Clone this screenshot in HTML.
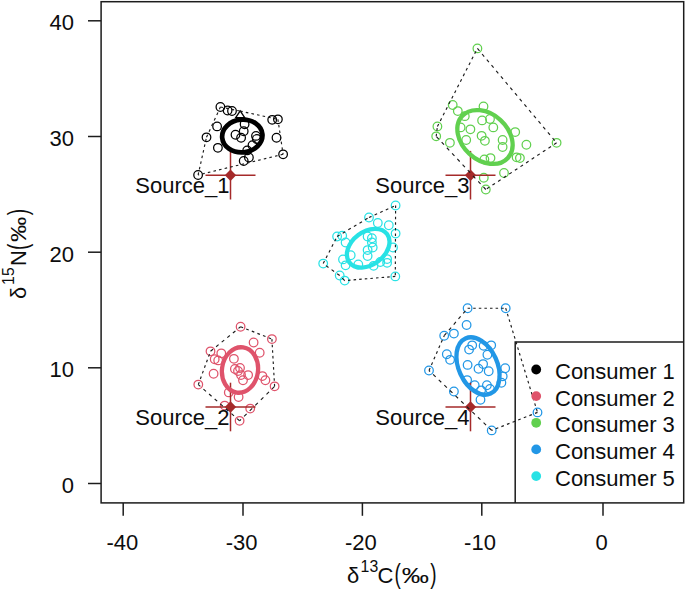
<!DOCTYPE html><html><head><meta charset="utf-8"><title>Isotope biplot</title><style>html,body{margin:0;padding:0;background:#fff}body{width:685px;height:590px;overflow:hidden}</style></head><body><svg width="685" height="590" viewBox="0 0 685 590" style="display:block">
<rect width="685" height="590" fill="#fff"/>
<g font-family="&quot;Liberation Sans&quot;, sans-serif" font-size="22" fill="#0d0d0d">
<rect x="101.1" y="1.7" width="582.6" height="501.2" fill="none" stroke="#1c1c1c" stroke-width="1.5"/>
<line x1="123.2" y1="502.9" x2="123.2" y2="515.8" stroke="#1c1c1c" stroke-width="1.5"/>
<text x="122.4" y="550.3" text-anchor="middle">-40</text>
<line x1="243.0" y1="502.9" x2="243.0" y2="515.8" stroke="#1c1c1c" stroke-width="1.5"/>
<text x="241.6" y="550.3" text-anchor="middle">-30</text>
<line x1="362.4" y1="502.9" x2="362.4" y2="515.8" stroke="#1c1c1c" stroke-width="1.5"/>
<text x="360.8" y="550.3" text-anchor="middle">-20</text>
<line x1="481.8" y1="502.9" x2="481.8" y2="515.8" stroke="#1c1c1c" stroke-width="1.5"/>
<text x="480.0" y="550.3" text-anchor="middle">-10</text>
<line x1="603.0" y1="502.9" x2="603.0" y2="515.8" stroke="#1c1c1c" stroke-width="1.5"/>
<text x="601.7" y="550.3" text-anchor="middle">0</text>
<line x1="88" y1="483.5" x2="101.1" y2="483.5" stroke="#1c1c1c" stroke-width="1.5"/>
<text x="74" y="493.0" text-anchor="end">0</text>
<line x1="88" y1="367.8" x2="101.1" y2="367.8" stroke="#1c1c1c" stroke-width="1.5"/>
<text x="74" y="377.3" text-anchor="end">10</text>
<line x1="88" y1="252.2" x2="101.1" y2="252.2" stroke="#1c1c1c" stroke-width="1.5"/>
<text x="74" y="261.7" text-anchor="end">20</text>
<line x1="88" y1="136.5" x2="101.1" y2="136.5" stroke="#1c1c1c" stroke-width="1.5"/>
<text x="74" y="146.0" text-anchor="end">30</text>
<line x1="88" y1="20.8" x2="101.1" y2="20.8" stroke="#1c1c1c" stroke-width="1.5"/>
<text x="74" y="30.3" text-anchor="end">40</text>
<g transform="translate(347,582.5)"><text x="0" y="0">δ</text><text x="13.6" y="-10.5" font-size="15.8">13</text><text x="30.6" y="0">C</text><text transform="translate(47.6,0.4) scale(0.86,1.25)">(</text><text x="54.7" y="0" textLength="27.2" lengthAdjust="spacingAndGlyphs">‰</text><text transform="translate(83.3,0.4) scale(0.86,1.25)">)</text></g>
<g transform="translate(26.3,299.5) rotate(-90)"><text x="0.4" y="0">δ</text><text x="14.6" y="-12.6" font-size="15.8">15</text><text x="33.4" y="0">N</text><text transform="translate(49.6,0.4) scale(0.86,1.25)">(</text><text x="57.6" y="0" textLength="25.2" lengthAdjust="spacingAndGlyphs">‰</text><text transform="translate(84.3,0.4) scale(0.86,1.25)">)</text></g>
<g fill="none" stroke="#000000" stroke-width="1.25">
<circle cx="220.4" cy="107.0" r="4.3"/>
<circle cx="227.6" cy="110.5" r="4.3"/>
<circle cx="232.0" cy="111.0" r="4.3"/>
<circle cx="272.2" cy="119.8" r="4.3"/>
<circle cx="277.9" cy="119.3" r="4.3"/>
<circle cx="217.1" cy="126.4" r="4.3"/>
<circle cx="206.5" cy="137.3" r="4.3"/>
<circle cx="276.5" cy="137.7" r="4.3"/>
<circle cx="217.9" cy="147.8" r="4.3"/>
<circle cx="283.1" cy="154.3" r="4.3"/>
<circle cx="243.7" cy="161.0" r="4.3"/>
<circle cx="248.9" cy="157.5" r="4.3"/>
<circle cx="198.1" cy="175.0" r="4.3"/>
<circle cx="244.6" cy="124.2" r="4.3"/>
<circle cx="243.7" cy="131.2" r="4.3"/>
<circle cx="235.5" cy="134.7" r="4.3"/>
<circle cx="241.1" cy="137.7" r="4.3"/>
<circle cx="256.0" cy="135.9" r="4.3"/>
<circle cx="252.5" cy="145.2" r="4.3"/>
<circle cx="247.2" cy="150.4" r="4.3"/>
<circle cx="256.8" cy="139.0" r="4.3"/>
</g>
<g fill="none" stroke="#DF536B" stroke-width="1.25">
<circle cx="240.6" cy="326.7" r="4.3"/>
<circle cx="271.9" cy="339.1" r="4.3"/>
<circle cx="253.6" cy="342.5" r="4.3"/>
<circle cx="210.5" cy="351.3" r="4.3"/>
<circle cx="221.3" cy="353.3" r="4.3"/>
<circle cx="259.7" cy="352.7" r="4.3"/>
<circle cx="218.2" cy="360.4" r="4.3"/>
<circle cx="214.7" cy="359.2" r="4.3"/>
<circle cx="213.6" cy="373.7" r="4.3"/>
<circle cx="198.3" cy="384.6" r="4.3"/>
<circle cx="262.4" cy="376.1" r="4.3"/>
<circle cx="265.4" cy="380.2" r="4.3"/>
<circle cx="274.6" cy="386.3" r="4.3"/>
<circle cx="228.8" cy="392.4" r="4.3"/>
<circle cx="238.6" cy="397.0" r="4.3"/>
<circle cx="224.7" cy="405.6" r="4.3"/>
<circle cx="250.2" cy="408.6" r="4.3"/>
<circle cx="239.6" cy="420.8" r="4.3"/>
<circle cx="233.9" cy="358.8" r="4.3"/>
<circle cx="234.9" cy="369.0" r="4.3"/>
<circle cx="240.0" cy="368.0" r="4.3"/>
<circle cx="241.0" cy="375.1" r="4.3"/>
<circle cx="248.1" cy="375.1" r="4.3"/>
<circle cx="243.0" cy="380.2" r="4.3"/>
<circle cx="238.0" cy="371.0" r="4.3"/>
</g>
<g fill="none" stroke="#61D04F" stroke-width="1.25">
<circle cx="477.4" cy="48.4" r="4.3"/>
<circle cx="452.7" cy="105.0" r="4.3"/>
<circle cx="457.8" cy="111.1" r="4.3"/>
<circle cx="483.5" cy="106.4" r="4.3"/>
<circle cx="437.4" cy="126.5" r="4.3"/>
<circle cx="436.2" cy="136.3" r="4.3"/>
<circle cx="449.9" cy="142.8" r="4.3"/>
<circle cx="556.6" cy="142.8" r="4.3"/>
<circle cx="515.2" cy="132.1" r="4.3"/>
<circle cx="526.4" cy="144.7" r="4.3"/>
<circle cx="516.6" cy="157.3" r="4.3"/>
<circle cx="519.9" cy="158.1" r="4.3"/>
<circle cx="504.0" cy="173.0" r="4.3"/>
<circle cx="483.8" cy="177.7" r="4.3"/>
<circle cx="485.8" cy="189.5" r="4.3"/>
<circle cx="464.8" cy="116.2" r="4.3"/>
<circle cx="482.1" cy="120.4" r="4.3"/>
<circle cx="490.0" cy="119.0" r="4.3"/>
<circle cx="493.3" cy="127.4" r="4.3"/>
<circle cx="470.4" cy="129.3" r="4.3"/>
<circle cx="460.6" cy="127.4" r="4.3"/>
<circle cx="466.2" cy="140.0" r="4.3"/>
<circle cx="481.6" cy="135.8" r="4.3"/>
<circle cx="484.9" cy="140.8" r="4.3"/>
<circle cx="502.6" cy="140.0" r="4.3"/>
<circle cx="502.6" cy="147.0" r="4.3"/>
<circle cx="484.4" cy="159.5" r="4.3"/>
<circle cx="490.5" cy="158.1" r="4.3"/>
</g>
<g fill="none" stroke="#2297E6" stroke-width="1.25">
<circle cx="467.6" cy="308.2" r="4.3"/>
<circle cx="505.7" cy="308.2" r="4.3"/>
<circle cx="466.6" cy="325.0" r="4.3"/>
<circle cx="444.2" cy="335.7" r="4.3"/>
<circle cx="453.9" cy="333.6" r="4.3"/>
<circle cx="446.8" cy="354.2" r="4.3"/>
<circle cx="450.1" cy="359.8" r="4.3"/>
<circle cx="429.0" cy="370.5" r="4.3"/>
<circle cx="453.9" cy="391.5" r="4.3"/>
<circle cx="505.2" cy="368.2" r="4.3"/>
<circle cx="502.7" cy="376.3" r="4.3"/>
<circle cx="501.4" cy="382.7" r="4.3"/>
<circle cx="480.5" cy="399.7" r="4.3"/>
<circle cx="491.7" cy="430.4" r="4.3"/>
<circle cx="537.5" cy="412.4" r="4.3"/>
<circle cx="472.2" cy="345.3" r="4.3"/>
<circle cx="469.1" cy="349.6" r="4.3"/>
<circle cx="483.6" cy="345.8" r="4.3"/>
<circle cx="491.2" cy="345.3" r="4.3"/>
<circle cx="487.4" cy="354.7" r="4.3"/>
<circle cx="467.6" cy="364.9" r="4.3"/>
<circle cx="483.1" cy="364.1" r="4.3"/>
<circle cx="478.5" cy="368.7" r="4.3"/>
<circle cx="488.7" cy="371.2" r="4.3"/>
<circle cx="467.1" cy="380.1" r="4.3"/>
<circle cx="474.7" cy="385.2" r="4.3"/>
<circle cx="486.9" cy="385.2" r="4.3"/>
<circle cx="481.1" cy="390.3" r="4.3"/>
<circle cx="490.0" cy="389.0" r="4.3"/>
</g>
<g fill="none" stroke="#28E2E5" stroke-width="1.25">
<circle cx="395.6" cy="205.5" r="4.3"/>
<circle cx="369.0" cy="217.5" r="4.3"/>
<circle cx="377.8" cy="223.0" r="4.3"/>
<circle cx="388.8" cy="225.2" r="4.3"/>
<circle cx="395.6" cy="233.6" r="4.3"/>
<circle cx="337.1" cy="236.5" r="4.3"/>
<circle cx="342.2" cy="235.7" r="4.3"/>
<circle cx="345.6" cy="242.5" r="4.3"/>
<circle cx="393.0" cy="247.5" r="4.3"/>
<circle cx="323.2" cy="263.6" r="4.3"/>
<circle cx="343.0" cy="259.4" r="4.3"/>
<circle cx="345.6" cy="265.3" r="4.3"/>
<circle cx="350.7" cy="255.2" r="4.3"/>
<circle cx="358.3" cy="264.5" r="4.3"/>
<circle cx="373.6" cy="265.8" r="4.3"/>
<circle cx="380.3" cy="262.0" r="4.3"/>
<circle cx="387.1" cy="259.1" r="4.3"/>
<circle cx="387.1" cy="262.8" r="4.3"/>
<circle cx="339.7" cy="275.5" r="4.3"/>
<circle cx="344.7" cy="280.6" r="4.3"/>
<circle cx="395.3" cy="276.4" r="4.3"/>
<circle cx="367.6" cy="236.5" r="4.3"/>
<circle cx="371.9" cy="238.2" r="4.3"/>
<circle cx="371.9" cy="242.5" r="4.3"/>
<circle cx="372.7" cy="247.5" r="4.3"/>
<circle cx="367.6" cy="250.1" r="4.3"/>
<circle cx="367.6" cy="256.0" r="4.3"/>
</g>
<path d="M240.2 110.9L235.7 117.6H244.7Z" fill="none" stroke="#000" stroke-width="1.3"/>
<g stroke="#A52A2A" stroke-width="1.5"><line x1="205.5" y1="175.2" x2="255.5" y2="175.2"/><line x1="230.5" y1="150.89999999999998" x2="230.5" y2="199.5"/></g>
<path d="M224.8 175.2L230.5 169.5L236.2 175.2L230.5 180.89999999999998Z" fill="#A52A2A"/>
<text x="229.5" y="192.6" text-anchor="end">Source_1</text>
<g stroke="#A52A2A" stroke-width="1.5"><line x1="205.5" y1="407.0" x2="255.5" y2="407.0"/><line x1="230.5" y1="382.7" x2="230.5" y2="431.3"/></g>
<path d="M224.8 407.0L230.5 401.3L236.2 407.0L230.5 412.7Z" fill="#A52A2A"/>
<text x="229.5" y="425.2" text-anchor="end">Source_2</text>
<g stroke="#A52A2A" stroke-width="1.5"><line x1="445.5" y1="175.2" x2="495.5" y2="175.2"/><line x1="470.5" y1="150.89999999999998" x2="470.5" y2="199.5"/></g>
<path d="M464.8 175.2L470.5 169.5L476.2 175.2L470.5 180.89999999999998Z" fill="#A52A2A"/>
<text x="469.5" y="192.6" text-anchor="end">Source_3</text>
<g stroke="#A52A2A" stroke-width="1.5"><line x1="445.5" y1="407.0" x2="495.5" y2="407.0"/><line x1="470.5" y1="382.7" x2="470.5" y2="431.3"/></g>
<path d="M464.8 407.0L470.5 401.3L476.2 407.0L470.5 412.7Z" fill="#A52A2A"/>
<text x="469.5" y="425.2" text-anchor="end">Source_4</text>
<g fill="none" stroke="#1c1c1c" stroke-width="1.15">
<line x1="198.1" y1="175.0" x2="206.5" y2="137.3" stroke-dasharray="2.58 3.16"/>
<line x1="206.5" y1="137.3" x2="220.4" y2="107.0" stroke-dasharray="2.77 3.39"/>
<line x1="220.4" y1="107.0" x2="240.2" y2="111.1" stroke-dasharray="2.57 3.15"/>
<line x1="240.2" y1="111.1" x2="277.9" y2="119.3" stroke-dasharray="2.58 3.15"/>
<line x1="277.9" y1="119.3" x2="283.1" y2="154.3" stroke-dasharray="2.55 3.11"/>
<line x1="283.1" y1="154.3" x2="198.1" y2="175.0" stroke-dasharray="2.59 3.17"/>
</g>
<g fill="none" stroke="#1c1c1c" stroke-width="1.15">
<line x1="240.6" y1="326.7" x2="271.9" y2="339.1" stroke-dasharray="2.71 3.31"/>
<line x1="271.9" y1="339.1" x2="274.6" y2="386.3" stroke-dasharray="2.52 3.09"/>
<line x1="274.6" y1="386.3" x2="239.6" y2="420.8" stroke-dasharray="3.54 4.32"/>
<line x1="239.6" y1="420.8" x2="198.3" y2="384.6" stroke-dasharray="3.35 4.10"/>
<line x1="198.3" y1="384.6" x2="210.5" y2="351.3" stroke-dasharray="2.68 3.28"/>
<line x1="210.5" y1="351.3" x2="240.6" y2="326.7" stroke-dasharray="3.25 3.98"/>
</g>
<g fill="none" stroke="#1c1c1c" stroke-width="1.15">
<line x1="477.4" y1="48.4" x2="556.6" y2="142.8" stroke-dasharray="3.29 4.02"/>
<line x1="556.6" y1="142.8" x2="485.8" y2="189.5" stroke-dasharray="3.02 3.69"/>
<line x1="485.8" y1="189.5" x2="436.2" y2="136.3" stroke-dasharray="3.45 4.21"/>
<line x1="436.2" y1="136.3" x2="437.4" y2="126.5" stroke-dasharray="2.54 3.10"/>
<line x1="437.4" y1="126.5" x2="477.4" y2="48.4" stroke-dasharray="2.83 3.46"/>
</g>
<g fill="none" stroke="#1c1c1c" stroke-width="1.15">
<line x1="467.6" y1="308.2" x2="505.7" y2="308.2" stroke-dasharray="2.52 3.08"/>
<line x1="505.7" y1="308.2" x2="537.5" y2="412.4" stroke-dasharray="2.63 3.22"/>
<line x1="537.5" y1="412.4" x2="491.7" y2="430.4" stroke-dasharray="2.71 3.31"/>
<line x1="491.7" y1="430.4" x2="429.0" y2="370.5" stroke-dasharray="3.49 4.26"/>
<line x1="429.0" y1="370.5" x2="444.2" y2="335.7" stroke-dasharray="2.75 3.36"/>
<line x1="444.2" y1="335.7" x2="467.6" y2="308.2" stroke-dasharray="3.31 4.04"/>
</g>
<g fill="none" stroke="#1c1c1c" stroke-width="1.15">
<line x1="395.6" y1="205.5" x2="395.3" y2="276.4" stroke-dasharray="2.52 3.08"/>
<line x1="395.3" y1="276.4" x2="344.7" y2="280.6" stroke-dasharray="2.53 3.09"/>
<line x1="344.7" y1="280.6" x2="339.7" y2="275.5" stroke-dasharray="3.53 4.31"/>
<line x1="339.7" y1="275.5" x2="323.2" y2="263.6" stroke-dasharray="3.11 3.80"/>
<line x1="323.2" y1="263.6" x2="337.1" y2="236.5" stroke-dasharray="2.83 3.46"/>
<line x1="337.1" y1="236.5" x2="369.0" y2="217.5" stroke-dasharray="2.93 3.58"/>
<line x1="369.0" y1="217.5" x2="395.6" y2="205.5" stroke-dasharray="2.76 3.38"/>
</g>
<ellipse cx="242.3" cy="136.0" rx="20.2" ry="16.4" transform="rotate(-5 242.3 136.0)" fill="none" stroke="#000000" stroke-width="4.7"/>
<ellipse cx="240" cy="370" rx="22.8" ry="18.0" transform="rotate(98 240 370)" fill="none" stroke="#DF536B" stroke-width="4.3"/>
<ellipse cx="485" cy="137.0" rx="31.0" ry="23.0" transform="rotate(42.5 485 137.0)" fill="none" stroke="#61D04F" stroke-width="4.3"/>
<ellipse cx="478" cy="366" rx="30.3" ry="19.3" transform="rotate(65.5 478 366)" fill="none" stroke="#2297E6" stroke-width="4.3"/>
<ellipse cx="368.2" cy="248.2" rx="23.6" ry="16.5" transform="rotate(-37 368.2 248.2)" fill="none" stroke="#28E2E5" stroke-width="4.3"/>
<path d="M515.2 502.9V342H683.7" fill="none" stroke="#1c1c1c" stroke-width="1.5"/>
<circle cx="536.2" cy="369.5" r="4.9" fill="#000000"/>
<text x="555.0" y="378.9">Consumer 1</text>
<circle cx="536.2" cy="396.1" r="4.9" fill="#DF536B"/>
<text x="555.0" y="405.5">Consumer 2</text>
<circle cx="536.2" cy="422.8" r="4.9" fill="#61D04F"/>
<text x="555.0" y="432.2">Consumer 3</text>
<circle cx="536.2" cy="449.4" r="4.9" fill="#2297E6"/>
<text x="555.0" y="458.8">Consumer 4</text>
<circle cx="536.2" cy="476.1" r="4.9" fill="#28E2E5"/>
<text x="555.0" y="485.5">Consumer 5</text>
</g></svg></body></html>
